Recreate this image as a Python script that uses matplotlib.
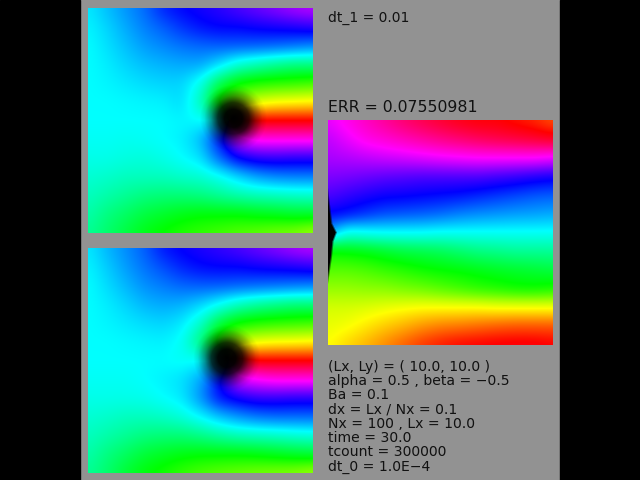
import numpy as np
import matplotlib
matplotlib.use("Agg")
import matplotlib.pyplot as plt
from matplotlib.colors import hsv_to_rgb

# hue in degrees, 13 x 13 samples, top row first
hue_top = [
    [185, 195, 205, 215, 232, 240, 245, 250, 258, 265, 272, 280, 285],
    [182, 190, 200, 210, 218, 228, 236, 240, 240, 243, 245, 247, 250],
    [180, 187, 195, 203, 208, 213, 216, 218, 218, 217, 215, 212, 208],
    [180, 184, 190, 195, 198, 200, 200, 187, 170, 162, 155, 150, 150],
    [180, 182, 185, 188, 190, 190, 175, 140, 120, 113, 110, 108, 105],
    [180, 180, 181, 182, 183, 188, 165, 110, 85, 68, 62, 60, 58],
    [180, 180, 180, 180, 180, 182, 180, 180, 0, 0, 0, 0, 0],
    [178, 178, 177, 178, 180, 183, 195, 235, 290, 305, 305, 305, 305],
    [175, 175, 173, 172, 175, 180, 187, 215, 240, 250, 252, 250, 250],
    [170, 168, 165, 165, 165, 168, 170, 177, 190, 202, 208, 210, 210],
    [165, 160, 155, 150, 148, 148, 150, 155, 160, 163, 165, 167, 168],
    [160, 150, 143, 135, 130, 125, 122, 122, 122, 125, 127, 130, 130],
    [155, 145, 135, 125, 118, 112, 108, 104, 100, 97, 93, 90, 82],
]
hue_bottom = [
    [185, 197, 207, 218, 235, 242, 247, 252, 258, 265, 272, 280, 285],
    [182, 192, 203, 213, 222, 232, 238, 240, 240, 243, 245, 247, 250],
    [180, 188, 197, 206, 211, 216, 218, 218, 216, 214, 212, 210, 208],
    [180, 184, 190, 197, 200, 198, 190, 178, 165, 157, 152, 148, 148],
    [180, 182, 185, 188, 190, 185, 168, 135, 118, 112, 109, 107, 105],
    [180, 180, 181, 182, 183, 178, 150, 105, 75, 64, 61, 60, 58],
    [180, 180, 180, 180, 180, 178, 180, 180, 350, 0, 0, 0, 0],
    [178, 178, 178, 180, 183, 187, 200, 240, 290, 300, 305, 305, 305],
    [175, 175, 175, 176, 180, 185, 205, 235, 245, 252, 252, 250, 250],
    [170, 168, 165, 165, 167, 172, 182, 195, 205, 212, 215, 215, 215],
    [165, 160, 155, 150, 148, 148, 152, 158, 163, 165, 167, 170, 172],
    [160, 150, 142, 133, 128, 124, 122, 122, 122, 124, 127, 130, 132],
    [155, 145, 132, 122, 115, 108, 102, 98, 95, 92, 90, 88, 82],
]
hue_right = [
    [295, 305, 315, 325, 335, 343, 350, 356, 360, 0, 5, 10, 20],
    [285, 295, 305, 310, 316, 322, 328, 333, 338, 342, 345, 348, 352],
    [280, 282, 285, 288, 290, 293, 296, 298, 300, 300, 300, 300, 296],
    [270, 268, 265, 262, 260, 258, 258, 258, 258, 255, 252, 248, 245],
    [258, 252, 247, 243, 242, 240, 238, 236, 232, 228, 224, 220, 218],
    [240, 235, 228, 222, 220, 218, 215, 210, 207, 205, 203, 202, 200],
    [200, 175, 178, 180, 180, 180, 178, 178, 178, 178, 178, 178, 178],
    [120, 122, 125, 130, 135, 137, 140, 145, 150, 152, 155, 155, 155],
    [100, 100, 103, 108, 112, 117, 120, 122, 125, 128, 130, 132, 135],
    [85, 85, 87, 88, 92, 95, 100, 105, 110, 113, 117, 118, 115],
    [70, 70, 68, 65, 62, 60, 60, 60, 60, 62, 62, 62, 62],
    [65, 62, 55, 48, 42, 35, 30, 28, 25, 22, 20, 20, 20],
    [60, 50, 42, 32, 22, 12, 5, 0, 358, 356, 355, 355, 358],
]

# dark core: brightness against distance from the centre, as panel fractions
core_r = [0.0, 0.04, 0.07, 0.10, 0.13, 0.15]
core_v = [0.0, 0.03, 0.2, 0.6, 0.9, 1.0]
core_top = (0.647, 0.49)
core_bottom = (0.618, 0.49)

# black sliver on the left edge of the right panel: width against height
edge_y = [0.30, 0.40, 0.46, 0.50, 0.54, 0.61, 0.73]
edge_w = [0.0, 0.012, 0.02, 0.04, 0.025, 0.018, 0.0]

info = ["(Lx, Ly) = ( 10.0, 10.0 )", "alpha = 0.5 , beta = \u22120.5", "Ba = 0.1",
        "dx = Lx / Nx = 0.1", "Nx = 100 , Lx = 10.0", "time = 30.0",
        "tcount = 300000", "dt_0 = 1.0E\u22124"]
err_label = "ERR = 0.07550981"
dt_label = "dt_1 = 0.01"

GREY = "#929292"
N = 225


def blur(a, w=13, passes=2):
    k = np.ones(w) / w
    for _ in range(passes):
        for axis in (0, 1):
            pad = [(w // 2, w // 2) if i == axis else (0, 0) for i in range(2)]
            a = np.apply_along_axis(lambda m: np.convolve(m, k, mode="valid"),
                                    axis, np.pad(a, pad, mode="edge"))
    return a


def field(hue):
    # go through the unit vector so hues wrap properly
    a = np.radians(np.array(hue, dtype=float))
    g = np.linspace(0, 1, a.shape[0])
    t = np.linspace(0, 1, N)
    out = []
    for part in (np.cos(a), np.sin(a)):
        cols = np.array([np.interp(t, g, row) for row in part])
        out.append(blur(np.array([np.interp(t, g, col) for col in cols.T]).T))
    return (np.degrees(np.arctan2(out[1], out[0])) % 360) / 360


def to_rgb(h, v):
    return hsv_to_rgb(np.dstack([h, np.ones_like(h), v]))


def core(center):
    t = np.linspace(0, 1, N)
    x, y = np.meshgrid(t, t)
    return np.interp(np.hypot(x - center[0], y - center[1]), core_r, core_v)


def panel(x0, y0, rgb):
    ax = fig.add_axes([x0 / 640, 1 - (y0 + 225) / 480, 225 / 640, 225 / 480])
    ax.imshow(rgb, interpolation="bilinear", aspect="auto")
    ax.axis("off")


fig = plt.figure(figsize=(6.4, 4.8), dpi=100, facecolor=GREY)
fig.add_artist(plt.Rectangle((0, 0), 80 / 640, 1, color="black", transform=fig.transFigure))
fig.add_artist(plt.Rectangle((560 / 640, 0), 80 / 640, 1, color="black", transform=fig.transFigure))

panel(88, 8, to_rgb(field(hue_top), core(core_top)))
panel(88, 248, to_rgb(field(hue_bottom), core(core_bottom)))

t = np.linspace(0, 1, N)
x, y = np.meshgrid(t, t)
v = np.clip((x - np.interp(y, edge_y, edge_w)) / 0.01 + 1, 0, 1)
panel(328, 120, to_rgb(field(hue_right), v))

fig.text(328 / 640, 1 - 22 / 480, dt_label, fontsize=10, color="#111111", va="baseline")
fig.text(328 / 640, 1 - 112 / 480, err_label, fontsize=11.3, color="#111111", va="baseline")
for i, line in enumerate(info):
    fig.text(328 / 640, 1 - (371 + i * 14.2) / 480, line, fontsize=10.1, color="#111111", va="baseline")

fig.savefig("out.png", dpi=100, facecolor=GREY)
